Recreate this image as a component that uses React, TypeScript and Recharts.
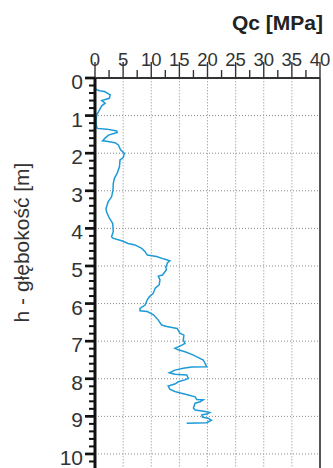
import { LineChart, Line, XAxis, YAxis, ReferenceLine } from 'recharts';

// CPT sounding: depth [m] and cone resistance Qc [MPa]
const depth = [
  0.3, 0.34, 0.36, 0.45, 0.54, 0.6, 0.67, 0.74, 0.9, 0.98, 1.12, 1.25, 1.34, 1.36, 1.41, 1.45,
  1.52, 1.6, 1.67, 1.68, 1.72, 1.78, 1.91, 2.0, 2.11, 2.18, 2.36, 2.53, 2.67, 2.8, 2.98, 3.16,
  3.29, 3.47, 3.56, 3.73, 3.82, 3.87, 4.09, 4.22, 4.26, 4.33, 4.4, 4.44, 4.53, 4.62, 4.71, 4.75,
  4.81, 4.86, 4.91, 5.03, 5.1, 5.24, 5.27, 5.37, 5.5, 5.59, 5.73, 5.82, 5.9, 6.04, 6.13, 6.19,
  6.21, 6.3, 6.44, 6.57, 6.61, 6.66, 6.79, 6.84, 6.97, 7.06, 7.13, 7.19, 7.23, 7.28, 7.37, 7.5,
  7.63, 7.68, 7.69, 7.72, 7.77, 7.84, 7.88, 7.9, 7.99, 8.03, 8.08, 8.14, 8.19, 8.28, 8.34, 8.37,
  8.43, 8.48, 8.55, 8.56, 8.61, 8.65, 8.78, 8.83, 8.85, 8.88, 8.9, 8.94, 8.96, 9.02, 9.05, 9.1,
  9.17, 9.18,
];
const qc = [
  0.1, 0.8, 1.7, 2.7, 2.55, 1.2, 1.8, 1.2, 0.6, 0.3, 0.2, 0.2, 0.4, 2.1, 3.85, 3.95,
  2.4, 1.8, 1.35, 2.1, 3.55, 4.15, 4.55, 5.2, 5.05, 4.45, 4.35, 3.95, 3.45, 3.25, 3.2, 2.95,
  2.35, 1.95, 2.05, 2.55, 2.95, 3.15, 3.25, 2.95, 3.15, 4.75, 5.9, 7.1, 8.3, 8.9, 9.3, 10.95,
  12.15, 13.3, 12.9, 12.6, 12.7, 12.0, 11.25, 11.55, 11.4, 10.7, 10.35, 9.65, 9.3, 8.9, 8.0, 8.0,
  9.3, 10.4, 11.25, 11.85, 12.75, 14.6, 15.1, 15.8, 15.7, 16.0, 15.1, 14.2, 14.8, 16.0, 17.5, 19.25,
  19.7, 19.85, 17.2, 15.7, 14.2, 13.2, 14.2, 16.3, 16.6, 16.0, 14.8, 14.2, 13.0, 13.3, 14.2, 15.0,
  16.6, 17.8, 18.1, 19.25, 18.7, 17.8, 17.5, 17.8, 18.7, 19.85, 20.4, 19.85, 19.0, 19.1, 20.1, 20.7,
  19.85, 16.3,
];

const qcTicks = [0, 2.5, 5, 7.5, 10, 12.5, 15, 17.5, 20, 22.5, 25, 27.5, 30, 32.5, 35, 37.5, 40];
const qcGrid = [5, 10, 15, 20, 25, 30, 35];
const depthGrid = [1, 2, 3, 4, 5, 6, 7, 8, 9, 10];
const depthTicks = Array.from({ length: 53 }, (_, i) => +(i * 0.2).toFixed(1));

const data = depth.map((d, i) => ({ depth: d, qc: qc[i] }));

const QcTick = ({ x, y, payload }: any) => {
  const v = payload.value;
  const major = v % 5 === 0;
  return (
    <g>
      <line x1={x} x2={x} y1={y} y2={y - (major ? 16 : 8)} stroke="#333" strokeWidth={1.4} />
      {major && (
        <text x={x} y={y - 12.5} textAnchor="middle" fontSize={18.5} fill="#333"
          fontFamily="'Liberation Sans Narrow', 'Liberation Sans', Arial, sans-serif">
          {v}
        </text>
      )}
    </g>
  );
};

const DepthTick = ({ x, y, payload }: any) => {
  const v = payload.value;
  const major = Math.abs(v - Math.round(v)) < 1e-6;
  return (
    <g>
      <line x1={x - (major ? 10 : 6)} x2={x} y1={y} y2={y} stroke="#111" strokeWidth={major ? 2.7 : 2} />
      {major && (
        <text x={x - 12} y={y + 11} textAnchor="end" fontSize={21} fill="#333"
          fontFamily="'Liberation Sans', Arial, sans-serif">
          {Math.round(v)}
        </text>
      )}
    </g>
  );
};

export default function App() {
  return (
    <div style={{ position: 'absolute', left: 0, top: 0, width: 333, height: 468, overflow: 'hidden', background: '#fff' }}>
      <LineChart width={333} height={470} data={data} layout="vertical"
        margin={{ top: 48, right: 13, bottom: 1, left: 0 }}>
        <XAxis type="number" dataKey="qc" orientation="top" domain={[0, 40]} ticks={qcTicks}
          interval={0} height={30} tickSize={0} tickMargin={0} tickLine={false}
          axisLine={{ stroke: '#333', strokeWidth: 2 }} tick={<QcTick />} />
        <YAxis type="number" dataKey="depth" domain={[0, 10.4]} ticks={depthTicks}
          interval={0} width={95} tickSize={0} tickMargin={0} tickLine={false}
          axisLine={{ stroke: '#111', strokeWidth: 3 }} tick={<DepthTick />} />
        {depthGrid.map((d) => (
          <ReferenceLine key={'h' + d} y={d} stroke="#888" strokeDasharray="1 2" strokeWidth={1} />
        ))}
        {qcGrid.map((q) => (
          <ReferenceLine key={'v' + q} x={q} stroke="#b0b0b0" strokeDasharray="1.5 1.5" strokeWidth={1} />
        ))}
        <ReferenceLine x={40} stroke="#555" strokeWidth={2} />
        <Line dataKey="qc" type="linear" stroke="#1e9ad8" strokeWidth={1.5} dot={false}
          isAnimationActive={false} />
      </LineChart>
      <div style={{ position: 'absolute', left: 0, top: 0, width: 333, height: 468, pointerEvents: 'none' }}>
        <svg width={333} height={468}>
          <text x={323} y={30} textAnchor="end" fontSize={21} fontWeight="bold" fill="#222"
            fontFamily="'Liberation Sans', Arial, sans-serif">
            Qc [MPa]
          </text>
          <text x={28.5} y={242.5} textAnchor="middle" fontSize={21} fill="#333"
            transform="rotate(-90 28.5 242.5)" fontFamily="'Liberation Sans', Arial, sans-serif">
            h - głębokość [m]
          </text>
        </svg>
      </div>
    </div>
  );
}
